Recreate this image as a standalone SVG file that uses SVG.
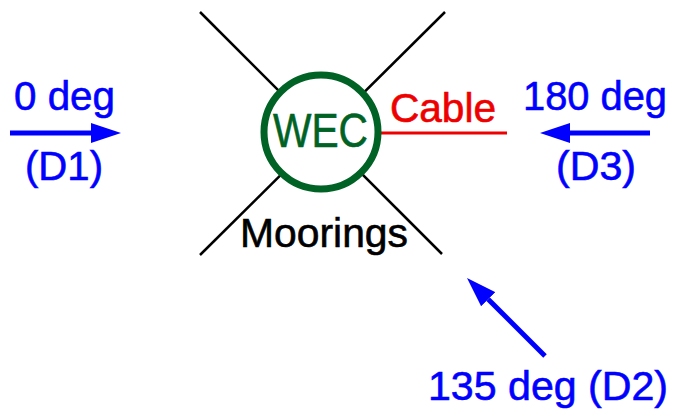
<svg xmlns="http://www.w3.org/2000/svg" width="673" height="409" viewBox="0 0 673 409">
<style>
text{font-family:"Liberation Sans",Arial,sans-serif;stroke-width:0.6;}
.blue{fill:#0000ff;stroke:#0000ff;font-size:41px;}
.moor{stroke:#000;stroke-width:2.5;}
.arr{stroke:#0000ff;stroke-width:5;fill:none;marker-end:url(#ah);}
</style>
<defs>
<marker id="ah" markerUnits="userSpaceOnUse" markerWidth="30" markerHeight="20" refX="0" refY="10" orient="auto">
<path d="M0,0 L30,10 L0,20 z" fill="#0000ff"/>
</marker>
</defs>
<rect width="673" height="409" fill="#fff"/>
<g id="moorings">
<line class="moor" x1="200" y1="12" x2="442" y2="254"/>
<line class="moor" x1="445" y1="12" x2="200" y2="255"/>
<text x="240" y="247" font-size="41" textLength="168" lengthAdjust="spacingAndGlyphs" fill="#000" stroke="#000">Moorings</text>
</g>
<g id="cable">
<line x1="380" y1="133" x2="507" y2="133" stroke="#ee0000" stroke-width="3"/>
<text x="390" y="122" font-size="40" textLength="106" lengthAdjust="spacingAndGlyphs" fill="#ee0000" stroke="#ee0000">Cable</text>
</g>
<g id="wec">
<circle cx="321" cy="132" r="57" fill="#fff" stroke="#006225" stroke-width="7"/>
<text x="273" y="147" font-size="49" textLength="95" lengthAdjust="spacingAndGlyphs" fill="#006225" stroke="#006225">WEC</text>
</g>
<g id="connectors">
<line class="arr" x1="10" y1="133" x2="91" y2="133"/>
<line class="arr" x1="650" y1="133" x2="570" y2="133"/>
<line class="arr" x1="545" y1="356" x2="488.2" y2="299.2"/>
</g>
<g id="d1">
<text class="blue" x="14" y="110" textLength="101" lengthAdjust="spacingAndGlyphs">0 deg</text>
<text class="blue" x="25" y="180" textLength="78" lengthAdjust="spacingAndGlyphs">(D1)</text>
</g>
<g id="d3">
<text class="blue" x="523" y="110" textLength="144" lengthAdjust="spacingAndGlyphs">180 deg</text>
<text class="blue" x="556" y="180" textLength="80" lengthAdjust="spacingAndGlyphs">(D3)</text>
</g>
<g id="d2">
<text class="blue" x="428" y="400" textLength="240" lengthAdjust="spacingAndGlyphs">135 deg (D2)</text>
</g>
</svg>
